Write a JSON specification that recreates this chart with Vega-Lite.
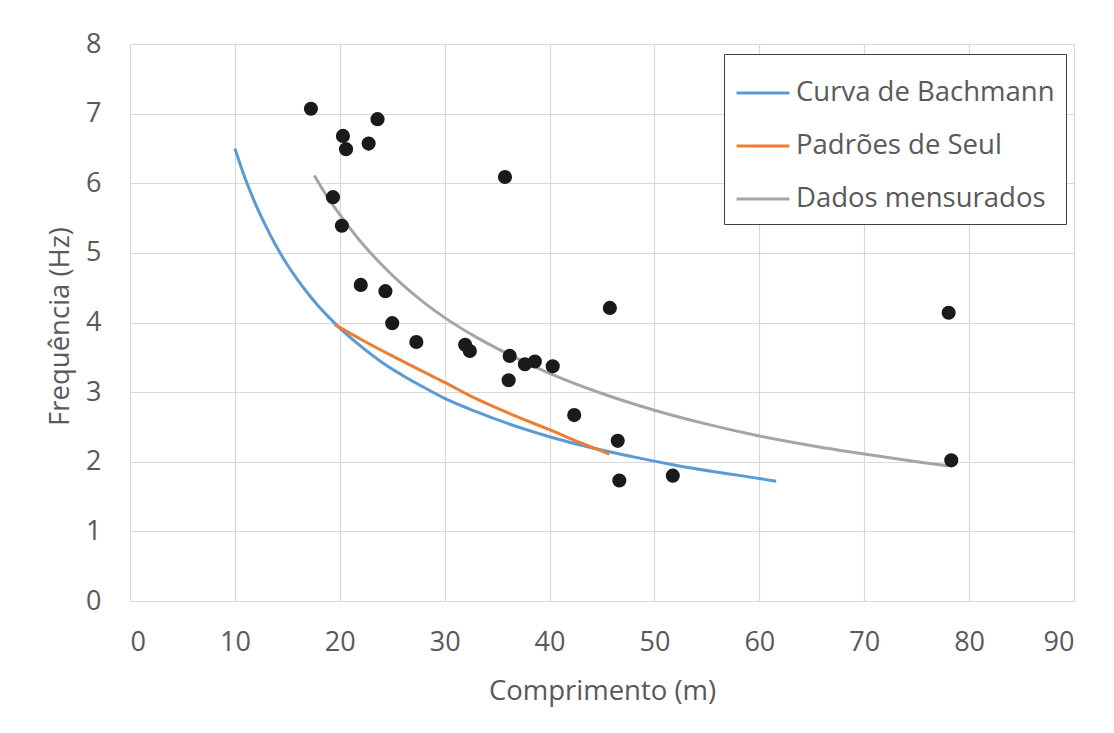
{
  "$schema": "https://vega.github.io/schema/vega-lite/v6.json",
  "autosize": {"type": "none"},
  "width": 944,
  "height": 557,
  "padding": {"left": 130, "top": 44, "right": 40, "bottom": 132},
  "background": "white",
  "config": {
    "font": "Open Sans",
    "view": {"stroke": null},
    "axis": {
      "gridColor": "#d9d9d9",
      "gridWidth": 1.2,
      "domain": false,
      "ticks": false,
      "labelColor": "#595959",
      "titleColor": "#595959",
      "labelFont": "Open Sans",
      "titleFont": "Open Sans",
      "labelFontWeight": "normal",
      "titleFontWeight": "normal"
    }
  },
  "datasets": {
    "curves": [
      {"L": 10, "f": 6.5, "serie": "Curva de Bachmann"},
      {"L": 11, "f": 6.06, "serie": "Curva de Bachmann"},
      {"L": 12, "f": 5.69, "serie": "Curva de Bachmann"},
      {"L": 13, "f": 5.37, "serie": "Curva de Bachmann"},
      {"L": 14, "f": 5.08, "serie": "Curva de Bachmann"},
      {"L": 15, "f": 4.83, "serie": "Curva de Bachmann"},
      {"L": 16, "f": 4.61, "serie": "Curva de Bachmann"},
      {"L": 17, "f": 4.41, "serie": "Curva de Bachmann"},
      {"L": 18, "f": 4.23, "serie": "Curva de Bachmann"},
      {"L": 19, "f": 4.07, "serie": "Curva de Bachmann"},
      {"L": 20, "f": 3.92, "serie": "Curva de Bachmann"},
      {"L": 22, "f": 3.66, "serie": "Curva de Bachmann"},
      {"L": 24, "f": 3.43, "serie": "Curva de Bachmann"},
      {"L": 26, "f": 3.24, "serie": "Curva de Bachmann"},
      {"L": 28, "f": 3.07, "serie": "Curva de Bachmann"},
      {"L": 30, "f": 2.91, "serie": "Curva de Bachmann"},
      {"L": 33, "f": 2.72, "serie": "Curva de Bachmann"},
      {"L": 36, "f": 2.55, "serie": "Curva de Bachmann"},
      {"L": 40, "f": 2.36, "serie": "Curva de Bachmann"},
      {"L": 44, "f": 2.2, "serie": "Curva de Bachmann"},
      {"L": 48, "f": 2.07, "serie": "Curva de Bachmann"},
      {"L": 52, "f": 1.95, "serie": "Curva de Bachmann"},
      {"L": 56, "f": 1.85, "serie": "Curva de Bachmann"},
      {"L": 60, "f": 1.76, "serie": "Curva de Bachmann"},
      {"L": 61.6, "f": 1.72, "serie": "Curva de Bachmann"},
      {"L": 19.5, "f": 3.97, "serie": "Padrões de Seul"},
      {"L": 22, "f": 3.76, "serie": "Padrões de Seul"},
      {"L": 25, "f": 3.52, "serie": "Padrões de Seul"},
      {"L": 28, "f": 3.29, "serie": "Padrões de Seul"},
      {"L": 30, "f": 3.14, "serie": "Padrões de Seul"},
      {"L": 32.4, "f": 2.95, "serie": "Padrões de Seul"},
      {"L": 35, "f": 2.77, "serie": "Padrões de Seul"},
      {"L": 38, "f": 2.58, "serie": "Padrões de Seul"},
      {"L": 40, "f": 2.46, "serie": "Padrões de Seul"},
      {"L": 43, "f": 2.27, "serie": "Padrões de Seul"},
      {"L": 45.7, "f": 2.11, "serie": "Padrões de Seul"},
      {"L": 17.57, "f": 6.11, "serie": "Dados mensurados"},
      {"L": 19, "f": 5.76, "serie": "Dados mensurados"},
      {"L": 20, "f": 5.55, "serie": "Dados mensurados"},
      {"L": 22, "f": 5.16, "serie": "Dados mensurados"},
      {"L": 24, "f": 4.83, "serie": "Dados mensurados"},
      {"L": 26, "f": 4.54, "serie": "Dados mensurados"},
      {"L": 28, "f": 4.29, "serie": "Dados mensurados"},
      {"L": 30, "f": 4.07, "serie": "Dados mensurados"},
      {"L": 33, "f": 3.79, "serie": "Dados mensurados"},
      {"L": 36, "f": 3.55, "serie": "Dados mensurados"},
      {"L": 40, "f": 3.27, "serie": "Dados mensurados"},
      {"L": 45, "f": 2.98, "serie": "Dados mensurados"},
      {"L": 50, "f": 2.74, "serie": "Dados mensurados"},
      {"L": 55, "f": 2.54, "serie": "Dados mensurados"},
      {"L": 60, "f": 2.37, "serie": "Dados mensurados"},
      {"L": 65, "f": 2.23, "serie": "Dados mensurados"},
      {"L": 70, "f": 2.11, "serie": "Dados mensurados"},
      {"L": 75, "f": 2.0, "serie": "Dados mensurados"},
      {"L": 78, "f": 1.94, "serie": "Dados mensurados"}
    ],
    "pontos": [
      {"L": 17.25, "f": 7.07},
      {"L": 20.3, "f": 6.68},
      {"L": 20.6, "f": 6.49},
      {"L": 22.75, "f": 6.57},
      {"L": 23.6, "f": 6.92},
      {"L": 35.75, "f": 6.09},
      {"L": 19.35, "f": 5.8},
      {"L": 20.2, "f": 5.39},
      {"L": 22.0, "f": 4.54},
      {"L": 24.35, "f": 4.45},
      {"L": 25.0, "f": 3.99},
      {"L": 27.3, "f": 3.72},
      {"L": 31.95, "f": 3.68},
      {"L": 32.4, "f": 3.59},
      {"L": 36.2, "f": 3.52},
      {"L": 36.1, "f": 3.17},
      {"L": 37.65, "f": 3.4},
      {"L": 38.6, "f": 3.44},
      {"L": 40.3, "f": 3.37},
      {"L": 45.75, "f": 4.21},
      {"L": 42.35, "f": 2.67},
      {"L": 46.5, "f": 2.3},
      {"L": 46.65, "f": 1.73},
      {"L": 51.75, "f": 1.8},
      {"L": 78.05, "f": 4.14},
      {"L": 78.3, "f": 2.02}
    ]
  },
  "encoding": {
    "x": {
      "field": "L",
      "type": "quantitative",
      "scale": {"domain": [0, 90], "nice": false, "zero": false},
      "axis": {
        "title": "Comprimento (m)",
        "values": [0, 10, 20, 30, 40, 50, 60, 70, 80, 90],
        "labelFontSize": 27,
        "labelPadding": 41,
        "labelBaseline": "middle",
        "titleFontSize": 27.5,
        "titleBaseline": "middle",
        "titleY": 90
      }
    },
    "y": {
      "field": "f",
      "type": "quantitative",
      "scale": {"domain": [0, 8], "nice": false},
      "axis": {
        "title": "Frequência (Hz)",
        "values": [0, 1, 2, 3, 4, 5, 6, 7, 8],
        "labelFontSize": 27,
        "labelPadding": 29,
        "titleFontSize": 27.5,
        "titleX": -70,
        "titleY": 282,
        "titleAngle": -90,
        "titleAlign": "center",
        "titleBaseline": "middle"
      }
    }
  },
  "layer": [
    {
      "data": {"name": "curves"},
      "mark": {"type": "line", "strokeWidth": 3, "interpolate": "monotone"},
      "encoding": {
        "color": {
          "field": "serie",
          "type": "nominal",
          "scale": {
            "domain": ["Curva de Bachmann", "Padrões de Seul", "Dados mensurados"],
            "range": ["#5b9bd5", "#ed7d31", "#a5a5a5"]
          },
          "legend": {
            "title": null,
            "orient": "none",
            "legendX": 594,
            "legendY": 10,
            "symbolType": "stroke",
            "symbolSize": 2800,
            "symbolStrokeWidth": 3,
            "labelFontSize": 27.5,
            "labelColor": "#595959",
            "labelOffset": 5,
            "rowPadding": 11,
            "padding": 11,
            "strokeColor": "#404040",
            "fillColor": "white",
            "labelLimit": 400
          }
        }
      }
    },
    {
      "data": {"name": "pontos"},
      "mark": {"type": "point", "filled": true, "size": 200, "color": "#1a1a1a", "opacity": 1}
    }
  ]
}
